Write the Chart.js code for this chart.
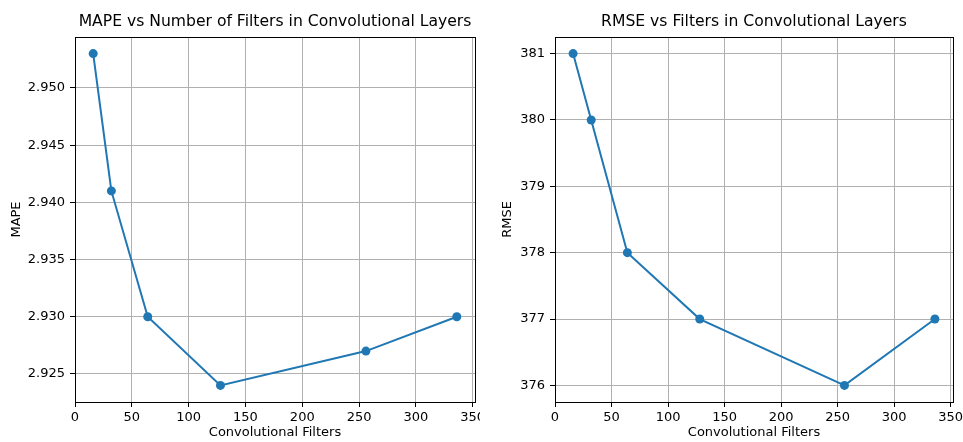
<!DOCTYPE html>
<html>
<head>
<meta charset="utf-8">
<script src="https://cdn.jsdelivr.net/npm/chart.js@4/dist/chart.umd.min.js"></script>
<style>
  body { margin: 0; background: #fff; }
  #wrap { position: relative; width: 963px; height: 442px; }
  canvas { position: absolute; top: 0; }
</style>
</head>
<body>
<div id="wrap">
  <canvas id="mapeChart" width="480" height="442" style="left:0"></canvas>
  <canvas id="rmseChart" width="483" height="442" style="left:480px"></canvas>
</div>
<script>
// data
const filters = [16, 32, 64, 128, 256, 336];
const mapeValues = [2.953, 2.941, 2.930, 2.924, 2.927, 2.930];
const rmseValues = [381, 380, 378, 377, 376, 377];

const xTicks = [0, 50, 100, 150, 200, 250, 300, 350];
const mapeTicks = [2.925, 2.930, 2.935, 2.940, 2.945, 2.950];
const rmseTicks = [376, 377, 378, 379, 380, 381];

const FONT = 'DejaVu Sans';
const BLUE = '#1f77b4';

Chart.defaults.font.family = FONT;
Chart.defaults.color = '#000';

// matplotlib draws a box round the axes, chart.js only draws left/bottom
const frame = {
    id: 'frame',
    afterDraw(chart) {
        const a = chart.chartArea;
        const c = chart.ctx;
        c.save();
        c.strokeStyle = '#000';
        c.lineWidth = 1;
        c.strokeRect(Math.round(a.left) + 0.5, Math.round(a.top) + 0.5,
            Math.round(a.right - a.left), Math.round(a.bottom - a.top));
        c.restore();
    }
};

function makeChart(id, opts) {
    const points = filters.map((f, i) => ({x: f, y: opts.values[i]}));
    return new Chart(document.getElementById(id), {
        type: 'line',
        data: {
            datasets: [{
                data: points,
                borderColor: BLUE,
                backgroundColor: BLUE,
                borderWidth: 2,
                pointRadius: 4.5,
                pointHoverRadius: 4.5,
                pointBorderWidth: 0,
                pointBackgroundColor: BLUE,
                tension: 0
            }]
        },
        options: {
            responsive: false,
            animation: false,
            layout: {padding: {left: 0, right: opts.padRight, top: 0, bottom: 0}},
            plugins: {
                legend: {display: false},
                tooltip: {enabled: false},
                title: {
                    display: true,
                    text: opts.title,
                    fullSize: false,
                    color: '#000',
                    font: {family: FONT, size: 15.6, weight: 'normal', lineHeight: 1.2},
                    padding: {top: 12.6, bottom: 5.7}
                }
            },
            scales: {
                x: {
                    type: 'linear',
                    min: 0,
                    max: 352,
                    afterBuildTicks: s => { s.ticks = xTicks.map(v => ({value: v})); },
                    afterFit: s => { s.height = 40; s.paddingLeft = 0; s.paddingRight = 0; },
                    grid: {color: '#b0b0b0', lineWidth: 1, tickLength: 5, tickColor: '#000'},
                    border: {color: '#000', width: 1},
                    ticks: {padding: 3, font: {size: 13}, maxRotation: 0},
                    title: {
                        display: true,
                        text: 'Convolutional Filters',
                        font: {size: 13, lineHeight: 1.2},
                        padding: {top: 0, bottom: 1.2}
                    }
                },
                y: {
                    type: 'linear',
                    min: opts.yMin,
                    max: opts.yMax,
                    afterBuildTicks: s => { s.ticks = opts.ticks.map(v => ({value: v})); },
                    afterFit: s => { s.width = 75; s.paddingTop = 0; s.paddingBottom = 0; },
                    grid: {color: '#b0b0b0', lineWidth: 1, tickLength: 5, tickColor: '#000'},
                    border: {color: '#000', width: 1},
                    ticks: {padding: 5, font: {size: 13}, callback: opts.fmt},
                    title: {
                        display: true,
                        text: opts.yLabel,
                        font: {size: 13, lineHeight: 1.2},
                        padding: {top: opts.yTitlePad, bottom: 0}
                    }
                }
            }
        },
        plugins: [frame]
    });
}

makeChart('mapeChart', {
    values: mapeValues,
    ticks: mapeTicks,
    title: 'MAPE vs Number of Filters in Convolutional Layers',
    yLabel: 'MAPE',
    yMin: 2.92255,
    yMax: 2.95445,
    padRight: 5,
    yTitlePad: 9.2,
    fmt: v => v.toFixed(3)
});

makeChart('rmseChart', {
    values: rmseValues,
    ticks: rmseTicks,
    title: 'RMSE vs Filters in Convolutional Layers',
    yLabel: 'RMSE',
    yMin: 375.75,
    yMax: 381.25,
    padRight: 10,
    yTitlePad: 20.2,
    fmt: v => String(v)
});
</script>
</body>
</html>
